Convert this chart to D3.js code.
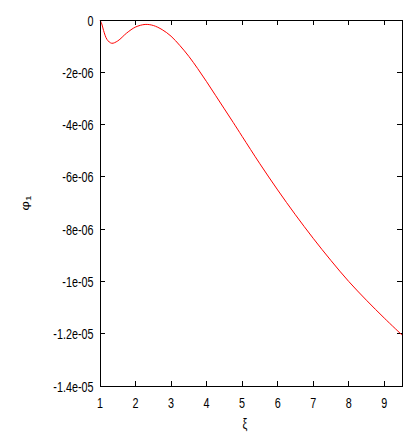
<!DOCTYPE html>
<html><head><meta charset="utf-8">
<script src="https://cdn.jsdelivr.net/npm/d3@7"></script>
<style>html,body{margin:0;padding:0;background:#fff;}</style>
</head><body>
<script>
const xi = [1.0, 1.05, 1.1, 1.2, 1.33, 1.5, 1.75, 2.0, 2.27, 2.5, 2.75, 3.0, 3.25, 3.5, 3.75, 4.0, 4.25, 4.5, 4.75, 5.0, 5.5, 6.0, 6.5, 7.0, 7.5, 8.0, 8.5, 9.0, 9.5];
const phi1 = [0, -0.15e-6, -0.4e-6, -0.75e-6, -0.89e-6, -0.8e-6, -0.5e-6, -0.27e-6, -0.17e-6, -0.21e-6, -0.37e-6, -0.62e-6, -0.98e-6, -1.39e-6, -1.86e-6, -2.36e-6, -2.88e-6, -3.4e-6, -3.92e-6, -4.45e-6, -5.5e-6, -6.5e-6, -7.45e-6, -8.35e-6, -9.2e-6, -10.0e-6, -10.72e-6, -11.4e-6, -12.05e-6];
const xTicks = [1, 2, 3, 4, 5, 6, 7, 8, 9];
const yTicks = [0, -2e-6, -4e-6, -6e-6, -8e-6, -1e-5, -1.2e-5, -1.4e-5];
const yTickLabels = ["0", "-2e-06", "-4e-06", "-6e-06", "-8e-06", "-1e-05", "-1.2e-05", "-1.4e-05"];

const W = 415, H = 443;
const L = 100, R = 402, T = 20, B = 386;
const sx = 0.72, fs = 15, tl = 5;

const svg = d3.select("body").append("svg").attr("width", W).attr("height", H);
const x = d3.scaleLinear().domain([1, 9.5]).range([L, R]);
const y = d3.scaleLinear().domain([-1.4e-5, 0]).range([B, T]);

const g = svg.append("g").attr("stroke", "#000").attr("stroke-width", 1).attr("shape-rendering", "crispEdges");
xTicks.forEach(v => {
  g.append("line").attr("x1", x(v)).attr("x2", x(v)).attr("y1", B).attr("y2", B - tl);
  g.append("line").attr("x1", x(v)).attr("x2", x(v)).attr("y1", T).attr("y2", T + tl);
});
yTicks.forEach(v => {
  g.append("line").attr("x1", L).attr("x2", L + tl).attr("y1", y(v)).attr("y2", y(v));
  g.append("line").attr("x1", R).attr("x2", R - tl).attr("y1", y(v)).attr("y2", y(v));
});

const line = d3.line().x((d, i) => x(xi[i])).y(d => y(d)).curve(d3.curveCatmullRom.alpha(0.5));
svg.append("path").datum(phi1).attr("d", line).attr("fill", "none").attr("stroke", "#ff0000").attr("stroke-width", 1);

svg.append("rect").attr("x", L).attr("y", T).attr("width", R - L).attr("height", B - T)
  .attr("fill", "none").attr("stroke", "#000").attr("stroke-width", 1).attr("shape-rendering", "crispEdges");

const font = "'Liberation Sans', Arial, sans-serif";
yTicks.forEach((v, i) => {
  svg.append("text").attr("transform", `translate(93.5,${y(v) + 5.5}) scale(${sx},1)`)
    .attr("text-anchor", "end").attr("font-family", font).attr("font-size", fs).attr("fill", "#000")
    .text(yTickLabels[i]);
});
xTicks.forEach(v => {
  svg.append("text").attr("transform", `translate(${x(v)},408) scale(${sx},1)`)
    .attr("text-anchor", "middle").attr("font-family", font).attr("font-size", fs).attr("fill", "#000")
    .text(String(v));
});
svg.append("text").attr("transform", `translate(245,429) scale(${sx},1)`)
  .attr("text-anchor", "middle").attr("font-family", font).attr("font-size", fs).attr("fill", "#000").text("ξ");
const yl = svg.append("text").attr("transform", `translate(29,${(T + B) / 2}) rotate(-90) scale(1,${sx})`)
  .attr("text-anchor", "middle").attr("font-family", font).attr("font-size", fs).attr("fill", "#000");
yl.append("tspan").text("φ");
yl.append("tspan").attr("font-size", 10).attr("dy", 3).text("1");
</script>
</body></html>
